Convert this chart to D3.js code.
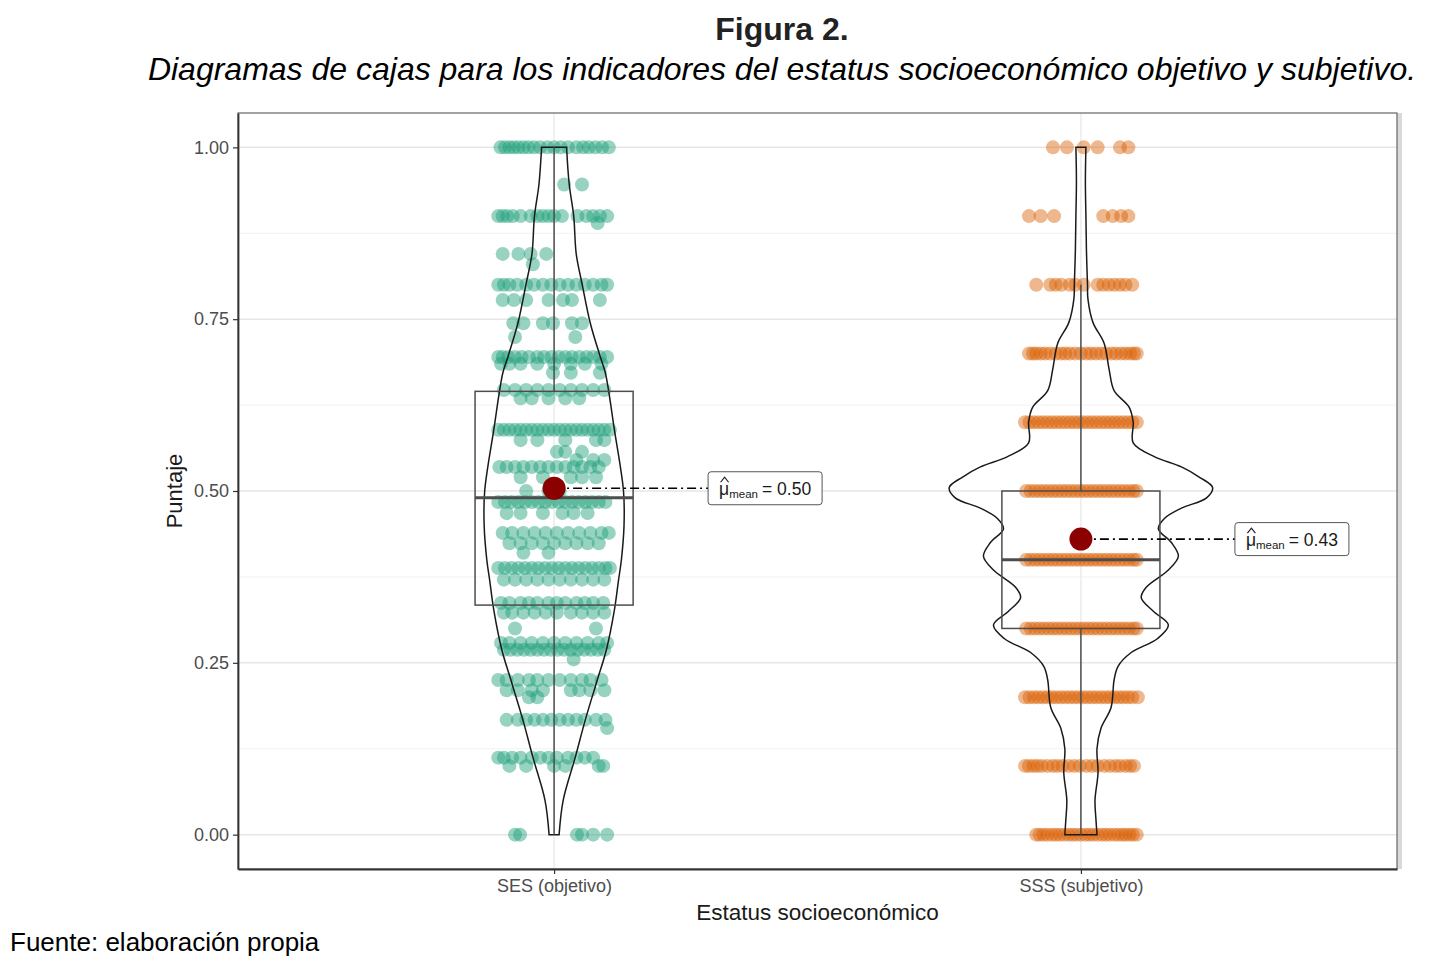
<!DOCTYPE html>
<html>
<head>
<meta charset="utf-8">
<script src="https://cdn.jsdelivr.net/npm/d3@7"></script>
<style>
  body { margin: 0; background: #fff; }
  svg { display: block; font-family: "Liberation Sans", Arial, sans-serif; }
</style>
</head>
<body>
<div id="chart"></div>
<script>
// categories and summary values
const categories = ['SES (objetivo)', 'SSS (subjetivo)'];
const yTicks = [0, 0.25, 0.5, 0.75, 1];
const yMinor = [0.125, 0.375, 0.625, 0.875];

// box stats [min, q1, median, q3, max] of whiskers
const sesBox = [0.00, 0.334, 0.49, 0.645, 1.00];
const sssBox = [0.00, 0.30, 0.40, 0.50, 0.80];
const means = [0.504, 0.430];
const meanLabels = ['0.50', '0.43'];

// violin outline: value, relative half-width
const sesViolinY = [0, 0.05, 0.112, 0.167, 0.225, 0.269, 0.327, 0.37, 0.40, 0.45, 0.50, 0.589, 0.672, 0.695, 0.744, 0.80, 0.845, 0.90, 0.946, 1];
const sesViolinW = [0.038, 0.069, 0.160, 0.237, 0.328, 0.397, 0.458, 0.489, 0.511, 0.531, 0.527, 0.458, 0.389, 0.351, 0.275, 0.214, 0.168, 0.149, 0.115, 0.095];
const sssViolinY = [0, 0.02, 0.05, 0.09, 0.125, 0.155, 0.185, 0.225, 0.245, 0.265, 0.285, 0.305, 0.325, 0.345, 0.36, 0.385, 0.405, 0.425, 0.445, 0.46, 0.475, 0.49, 0.505, 0.52, 0.535, 0.55, 0.57, 0.60, 0.622, 0.646, 0.677, 0.715, 0.745, 0.78, 0.80, 0.85, 0.90, 0.95, 1];
const sssViolinW = [0.122, 0.115, 0.107, 0.130, 0.122, 0.153, 0.229, 0.252, 0.282, 0.382, 0.580, 0.664, 0.550, 0.458, 0.496, 0.664, 0.740, 0.687, 0.588, 0.634, 0.763, 0.954, 1.0, 0.901, 0.763, 0.557, 0.397, 0.397, 0.366, 0.252, 0.214, 0.176, 0.092, 0.053, 0.050, 0.042, 0.038, 0.034, 0.038];

// jittered observations: [value, horizontal jitter offsets (-1..1)]
const sesPoints = [
  [1.00, [-0.96, -0.88, -0.8, -0.72, -0.64, -0.55, -0.46, -0.36, -0.25, -0.12, 0.0, 0.12, 0.25, 0.4, 0.52, 0.62, 0.74, 0.86, 0.98]],
  [0.946, [0.18, 0.5]],
  [0.90, [-1, -0.92, -0.84, -0.74, -0.6, -0.42, -0.3, -0.2, -0.1, 0.0, 0.14, 0.42, 0.58, 0.7, 0.82, 0.95]],
  [0.89, [0.78]],
  [0.845, [-0.92, -0.64, -0.42, -0.14]],
  [0.83, [-0.38]],
  [0.80, [-1, -0.9, -0.8, -0.66, -0.5, -0.36, -0.2, -0.05, 0.1, 0.25, 0.4, 0.55, 0.7, 0.85, 0.95]],
  [0.778, [-0.92, -0.72, -0.5, -0.1, 0.16, 0.32, 0.82]],
  [0.744, [-0.73, -0.55, -0.2, -0.02, 0.32, 0.5]],
  [0.724, [-0.7, 0.38]],
  [0.695, [-1, -0.92, -0.82, -0.7, -0.58, -0.45, -0.3, -0.18, -0.05, 0.08, 0.2, 0.32, 0.45, 0.58, 0.7, 0.82, 0.95]],
  [0.685, [-0.95, -0.8, -0.6, -0.3, 0.0, 0.3, 0.55, 0.85]],
  [0.672, [-0.02, 0.3, 0.82]],
  [0.647, [-0.9, -0.7, -0.5, -0.3, -0.1, 0.1, 0.3, 0.5, 0.7, 0.9]],
  [0.635, [-0.6, -0.4, -0.1, 0.2, 0.45]],
  [0.589, [-1, -0.9, -0.8, -0.7, -0.6, -0.5, -0.4, -0.3, -0.2, -0.1, 0, 0.1, 0.2, 0.3, 0.4, 0.5, 0.6, 0.7, 0.8, 0.9, 1]],
  [0.574, [-0.6, -0.3, 0.2, 0.75, 0.9]],
  [0.557, [0.05, 0.2, 0.5]],
  [0.545, [0.4, 0.7, 0.9]],
  [0.535, [-0.98, -0.85, -0.7, -0.55, -0.4, -0.25, -0.1, 0.05, 0.2, 0.35, 0.5, 0.65, 0.8]],
  [0.52, [-0.6, -0.2, 0.3, 0.5, 0.75]],
  [0.50, [-0.5, -0.1, 0.1]],
  [0.484, [-1, -0.88, -0.76, -0.64, -0.52, -0.4, -0.28, -0.16, -0.04, 0.08, 0.2, 0.32, 0.44, 0.56, 0.68, 0.8, 0.92]],
  [0.468, [-0.85, -0.6, -0.2, 0.15, 0.35, 0.6]],
  [0.439, [-0.92, -0.75, -0.55, -0.35, -0.15, 0.05, 0.25, 0.45, 0.65, 0.85, 0.98]],
  [0.424, [-0.8, -0.6, -0.4, -0.2, 0, 0.2, 0.4, 0.6, 0.8]],
  [0.41, [-0.55, -0.1]],
  [0.388, [-1, -0.88, -0.76, -0.64, -0.52, -0.4, -0.28, -0.16, -0.04, 0.08, 0.2, 0.32, 0.44, 0.56, 0.68, 0.8, 0.92, 1]],
  [0.371, [-0.9, -0.7, -0.5, -0.3, -0.1, 0.1, 0.3, 0.5, 0.7, 0.9]],
  [0.337, [-0.95, -0.8, -0.6, -0.45, -0.3, -0.1, 0.05, 0.2, 0.4, 0.55, 0.7, 0.88]],
  [0.323, [-0.9, -0.75, -0.55, -0.35, -0.15, 0.05, 0.3, 0.5, 0.7, 0.9]],
  [0.30, [-0.7, 0.75]],
  [0.279, [-0.95, -0.8, -0.6, -0.4, -0.2, 0, 0.2, 0.4, 0.6, 0.8, 0.95]],
  [0.269, [-0.9, -0.78, -0.66, -0.54, -0.42, -0.3, -0.18, -0.06, 0.06, 0.18, 0.3, 0.42, 0.54, 0.66, 0.78, 0.9]],
  [0.255, [0.35]],
  [0.225, [-1, -0.85, -0.65, -0.45, -0.3, -0.1, 0.1, 0.3, 0.5, 0.65, 0.85]],
  [0.21, [-0.85, -0.65, -0.4, -0.2, 0.3, 0.45, 0.65, 0.9]],
  [0.20, [-0.45, -0.3]],
  [0.167, [-0.85, -0.65, -0.5, -0.35, -0.2, -0.05, 0.1, 0.25, 0.4, 0.55, 0.75, 0.92]],
  [0.155, [0.95]],
  [0.112, [-1, -0.9, -0.75, -0.6, -0.4, -0.25, -0.1, 0.05, 0.25, 0.4, 0.55, 0.7]],
  [0.10, [-0.8, -0.5, 0.0, 0.2, 0.8, 0.88]],
  [0.00, [-0.7, -0.61, 0.41, 0.5, 0.7, 0.95]]
];
const sssPoints = [
  [1.0, [-0.5, -0.25, 0.05, 0.3, 0.7, 0.85]],
  [0.9, [-0.93, -0.72, -0.48, 0.4, 0.57, 0.72, 0.85]],
  [0.8, [-0.8, -0.55, -0.45, -0.35, -0.2, -0.1, 0.05, 0.3, 0.4, 0.5, 0.6, 0.7, 0.8, 0.92]],
  [0.7, [-0.93, -0.86, -0.8, -0.72, -0.64, -0.55, -0.45, -0.36, -0.28, -0.2, -0.1, 0, 0.1, 0.18, 0.27, 0.36, 0.45, 0.55, 0.63, 0.72, 0.8, 0.88, 0.95, 1.0]],
  [0.6, [-1, -0.92, -0.84, -0.76, -0.68, -0.6, -0.52, -0.44, -0.36, -0.28, -0.2, -0.12, -0.04, 0.04, 0.12, 0.2, 0.28, 0.36, 0.44, 0.52, 0.6, 0.68, 0.76, 0.84, 0.92, 1.0]],
  [0.5, [-0.98, -0.9, -0.82, -0.74, -0.66, -0.58, -0.5, -0.42, -0.34, -0.26, -0.18, -0.1, -0.02, 0.06, 0.14, 0.22, 0.3, 0.38, 0.46, 0.54, 0.62, 0.7, 0.78, 0.86, 0.94, 1.0]],
  [0.4, [-0.98, -0.9, -0.82, -0.74, -0.66, -0.58, -0.5, -0.42, -0.34, -0.26, -0.18, -0.1, -0.02, 0.06, 0.14, 0.22, 0.3, 0.38, 0.46, 0.54, 0.62, 0.7, 0.78, 0.86, 0.94, 1.0]],
  [0.3, [-0.98, -0.9, -0.82, -0.74, -0.66, -0.58, -0.5, -0.42, -0.34, -0.26, -0.18, -0.1, -0.02, 0.06, 0.14, 0.22, 0.3, 0.38, 0.46, 0.54, 0.62, 0.7, 0.78, 0.86, 0.94, 1.0]],
  [0.2, [-1, -0.92, -0.84, -0.76, -0.68, -0.6, -0.52, -0.44, -0.36, -0.28, -0.2, -0.12, -0.04, 0.04, 0.12, 0.2, 0.28, 0.36, 0.44, 0.52, 0.6, 0.68, 0.76, 0.84, 0.92, 1.02]],
  [0.1, [-1, -0.93, -0.85, -0.78, -0.7, -0.6, -0.5, -0.42, -0.33, -0.22, -0.12, -0.02, 0.1, 0.2, 0.3, 0.42, 0.52, 0.62, 0.7, 0.8, 0.88, 0.95]],
  [0.0, [-0.8, -0.74, -0.67, -0.6, -0.52, -0.45, -0.38, -0.3, -0.22, -0.15, -0.08, 0, 0.08, 0.15, 0.22, 0.3, 0.38, 0.45, 0.52, 0.6, 0.67, 0.74, 0.8, 0.87, 0.93, 1.0]]
];

const colors = ['#1b9e77', '#d95f02'];
const width = 1438, height = 966;
const panel = {left: 238, right: 1397, top: 113, bottom: 869};
const jitterHalf = 0.106;   // in category steps
const boxHalf = 0.15;
const violinMax = 0.25;
const fontFam = 'Liberation Sans, Arial, sans-serif';

const svg = d3.select('#chart').append('svg')
  .attr('width', width)
  .attr('height', height);

const x = d3.scalePoint()
  .domain(categories)
  .range([panel.left, panel.right])
  .padding(0.6);
const step = x.step();

const y = d3.scaleLinear()
  .domain([-0.05, 1.05])
  .range([panel.bottom, panel.top]);

const vw = d3.scaleLinear()
  .domain([0, 1])
  .range([0, violinMax * step]);

// light shadow at right edge of panel
svg.append('rect')
  .attr('x', panel.right)
  .attr('y', panel.top)
  .attr('width', 5)
  .attr('height', panel.bottom - panel.top)
  .attr('fill', '#d9d9d9');

// grid
const grid = svg.append('g');
yMinor.forEach((v) => {
  grid.append('line')
    .attr('x1', panel.left).attr('x2', panel.right)
    .attr('y1', y(v)).attr('y2', y(v))
    .attr('stroke', '#f2f2f2').attr('stroke-width', 1);
});
yTicks.forEach((v) => {
  grid.append('line')
    .attr('x1', panel.left).attr('x2', panel.right)
    .attr('y1', y(v)).attr('y2', y(v))
    .attr('stroke', '#e6e6e6').attr('stroke-width', 1.5);
});
categories.forEach((c) => {
  grid.append('line')
    .attr('x1', x(c)).attr('x2', x(c))
    .attr('y1', panel.top).attr('y2', panel.bottom)
    .attr('stroke', '#ececec').attr('stroke-width', 1.5);
});

// jittered points
const allPoints = [sesPoints, sssPoints];
allPoints.forEach((rows, i) => {
  const g = svg.append('g').attr('fill', colors[i]).attr('fill-opacity', 0.45);
  rows.forEach(([v, offs]) => {
    offs.forEach((o) => {
      g.append('circle')
        .attr('cx', x(categories[i]) + o * jitterHalf * step)
        .attr('cy', y(v))
        .attr('r', 7);
    });
  });
});

// violins
const violins = [[sesViolinY, sesViolinW], [sssViolinY, sssViolinW]];
violins.forEach(([vy, vwid], i) => {
  const cx = x(categories[i]);
  const pts = vy.map((v, k) => [v, vwid[k]]);
  const area = d3.area()
    .y((d) => y(d[0]))
    .x0((d) => cx - vw(d[1]))
    .x1((d) => cx + vw(d[1]))
    .curve(d3.curveCatmullRom);
  svg.append('path')
    .datum(pts)
    .attr('d', area)
    .attr('fill', 'none')
    .attr('stroke', '#1a1a1a')
    .attr('stroke-width', 1.5);
});

// boxes
[sesBox, sssBox].forEach((b, i) => {
  const cx = x(categories[i]);
  const hw = boxHalf * step;
  const g = svg.append('g').attr('stroke', '#4d4d4d').attr('fill', 'none');
  g.append('line').attr('x1', cx).attr('x2', cx).attr('y1', y(b[0])).attr('y2', y(b[1])).attr('stroke-width', 1.5);
  g.append('line').attr('x1', cx).attr('x2', cx).attr('y1', y(b[3])).attr('y2', y(b[4])).attr('stroke-width', 1.5);
  g.append('rect')
    .attr('x', cx - hw).attr('width', 2 * hw)
    .attr('y', y(b[3])).attr('height', y(b[1]) - y(b[3]))
    .attr('stroke-width', 1.5);
  g.append('line').attr('x1', cx - hw).attr('x2', cx + hw).attr('y1', y(b[2])).attr('y2', y(b[2])).attr('stroke-width', 3);
});

// means with labels
means.forEach((m, i) => {
  const cx = x(categories[i]);
  const lx = cx + 154;
  svg.append('line')
    .attr('x1', cx).attr('x2', lx)
    .attr('y1', y(m)).attr('y2', y(m))
    .attr('stroke', '#000').attr('stroke-width', 1.6)
    .attr('stroke-dasharray', '9,4,2,4');
  svg.append('circle')
    .attr('cx', cx).attr('cy', y(m)).attr('r', 11.5)
    .attr('fill', '#8b0000');
  const lab = svg.append('g').attr('transform', `translate(${lx},${y(m)})`);
  lab.append('rect')
    .attr('x', 0).attr('y', -16.5).attr('width', 114).attr('height', 33)
    .attr('rx', 3)
    .attr('fill', '#fff').attr('stroke', '#555').attr('stroke-width', 1);
  // hat over mu
  lab.append('path')
    .attr('d', 'M12.5,-6 L16.5,-11 L20.5,-6')
    .attr('fill', 'none').attr('stroke', '#1a1a1a').attr('stroke-width', 1.1);
  const t = lab.append('text').attr('x', 11).attr('y', 7).attr('font-size', 17.5).attr('fill', '#1a1a1a');
  t.append('tspan').text('\u03bc');
  t.append('tspan').attr('dy', 3).attr('font-size', 11.5).text('mean');
  t.append('tspan').attr('dy', -3).attr('dx', 4).text('= ' + meanLabels[i]);
});

// panel border and axes
svg.append('rect')
  .attr('x', panel.left).attr('y', panel.top)
  .attr('width', panel.right - panel.left).attr('height', panel.bottom - panel.top)
  .attr('fill', 'none').attr('stroke', '#666').attr('stroke-width', 1.2);

const yAxis = svg.append('g')
  .attr('transform', `translate(${panel.left},0)`)
  .call(d3.axisLeft(y).tickValues(yTicks).tickFormat(d3.format('.2f')).tickSize(5).tickSizeOuter(0).tickPadding(4));
yAxis.select('.domain').attr('stroke', '#333').attr('stroke-width', 1.8);
yAxis.selectAll('.tick line').attr('stroke', '#333').attr('stroke-width', 1.2);
yAxis.selectAll('.tick text').attr('fill', '#4d4d4d').attr('font-size', 18).attr('font-family', fontFam);

const xAxis = svg.append('g')
  .attr('transform', `translate(0,${panel.bottom})`)
  .call(d3.axisBottom(x).tickSize(5).tickSizeOuter(0).tickPadding(5));
xAxis.select('.domain').attr('stroke', '#333').attr('stroke-width', 2);
xAxis.selectAll('.tick line').attr('stroke', '#333').attr('stroke-width', 1.2);
xAxis.selectAll('.tick text').attr('fill', '#4d4d4d').attr('font-size', 18).attr('font-family', fontFam);

// axis titles
svg.append('text')
  .attr('transform', `translate(182,${(panel.top + panel.bottom) / 2}) rotate(-90)`)
  .attr('text-anchor', 'middle')
  .attr('font-size', 22)
  .attr('fill', '#1a1a1a')
  .text('Puntaje');
svg.append('text')
  .attr('x', (panel.left + panel.right) / 2).attr('y', 920)
  .attr('text-anchor', 'middle')
  .attr('font-size', 22.5)
  .attr('fill', '#1a1a1a')
  .text('Estatus socioeconómico');

// titles and source
svg.append('text')
  .attr('x', 782).attr('y', 40)
  .attr('text-anchor', 'middle')
  .attr('font-size', 32).attr('font-weight', 'bold')
  .attr('fill', '#222')
  .text('Figura 2.');
svg.append('text')
  .attr('x', 782).attr('y', 80)
  .attr('text-anchor', 'middle')
  .attr('font-size', 32).attr('font-style', 'italic')
  .attr('fill', '#000')
  .text('Diagramas de cajas para los indicadores del estatus socioeconómico objetivo y subjetivo.');
svg.append('text')
  .attr('x', 10).attr('y', 951)
  .attr('font-size', 26)
  .attr('fill', '#000')
  .text('Fuente: elaboración propia');
</script>
</body>
</html>
